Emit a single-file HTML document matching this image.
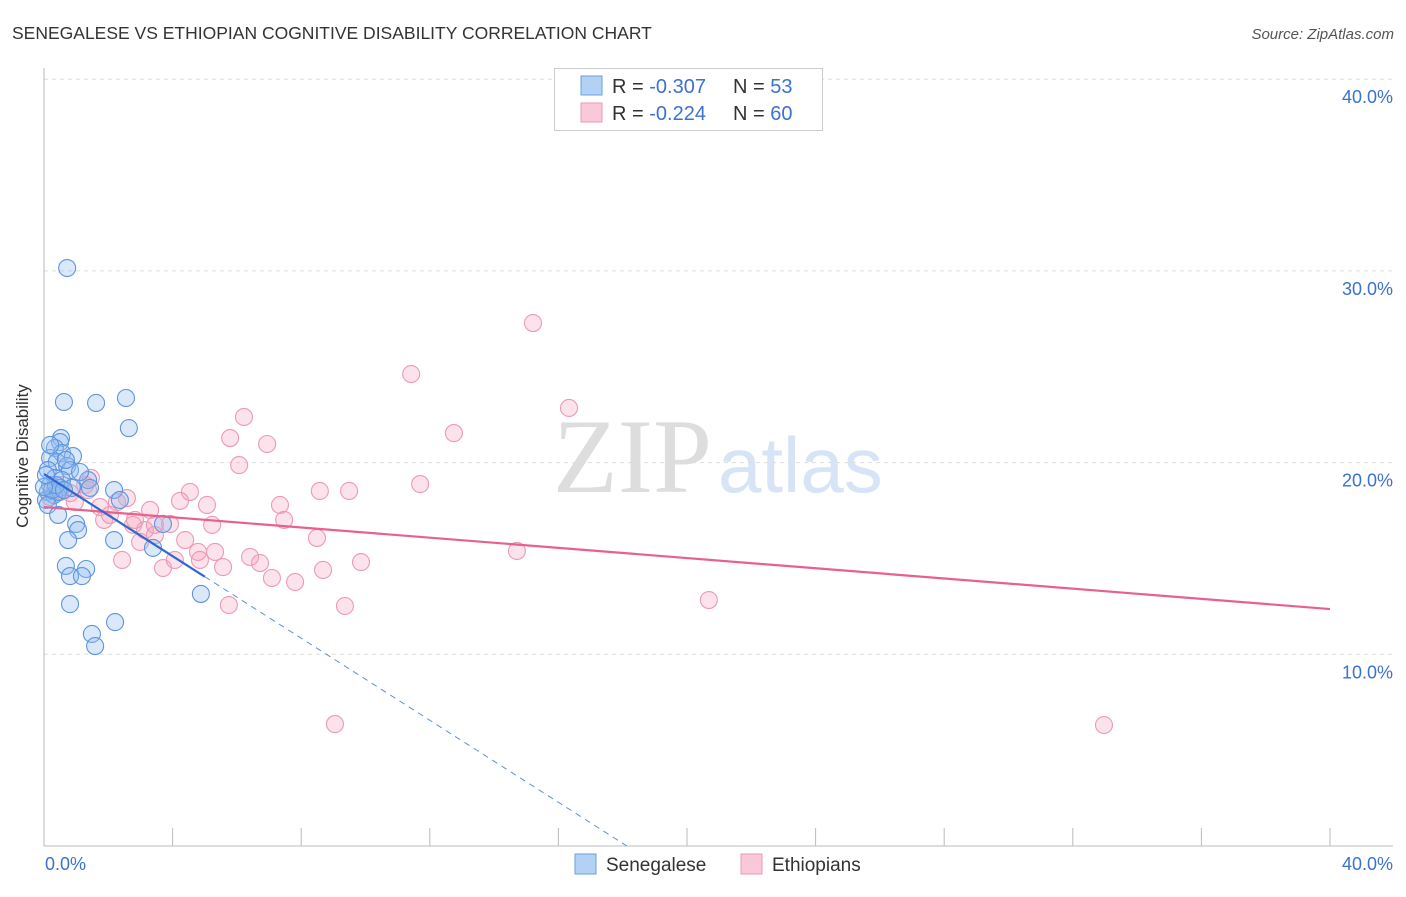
<!DOCTYPE html>
<html><head><meta charset="utf-8"><style>
body{margin:0;background:#fff;font-family:"Liberation Sans",sans-serif}
</style></head><body>
<svg id="c" width="1406" height="892" xmlns="http://www.w3.org/2000/svg">
<text x="12" y="39" font-size="17.5" fill="#333">SENEGALESE VS ETHIOPIAN COGNITIVE DISABILITY CORRELATION CHART</text>
<text x="1394" y="39" font-size="15" fill="#555" font-style="italic" text-anchor="end">Source: ZipAtlas.com</text>
<g>
<text x="553" y="492" font-size="106" font-family="Liberation Serif,serif" fill="#ddd">ZIP</text>
<text x="718" y="492" font-size="78" fill="#d6e4f5">atlas</text>
</g>
<g id="grid"></g>
<g id="axes"></g>
<g id="marks"></g>
<text x="28" y="456" font-size="17" fill="#333" text-anchor="middle" transform="rotate(-90 28 456)">Cognitive Disability</text>
<g>
<rect x="554.5" y="68.5" width="268" height="62" fill="#fff" stroke="#ccc"/>
<rect x="581" y="76" width="21" height="19" fill="#b3d0f5" stroke="#6d9fe0"/>
<rect x="581" y="103" width="21" height="19" fill="#fbc8d7" stroke="#ea9ab5"/>
<text x="612" y="93" font-size="20" fill="#333">R = <tspan fill="#3a72d0">-0.307</tspan><tspan x="733">N = </tspan><tspan fill="#3a72d0">53</tspan></text>
<text x="612" y="120" font-size="20" fill="#333">R = <tspan fill="#3a72d0">-0.224</tspan><tspan x="733">N = </tspan><tspan fill="#3a72d0">60</tspan></text>
</g>
<g>
<rect x="575" y="854" width="21" height="20" fill="#b3d0f5" stroke="#6d9fe0"/>
<text x="606" y="871" font-size="19" fill="#333">Senegalese</text>
<rect x="741" y="854" width="21" height="20" fill="#fbc8d7" stroke="#ea9ab5"/>
<text x="772" y="871" font-size="19" fill="#333">Ethiopians</text>
</g>
</svg>
<script>
const yTicks=[10,20,30,40];
const yTickLabels=["10.0%","20.0%","30.0%","40.0%"];
const xTicks=[4,8,12,16,20,24,28,32,36,40];
const blueX=[0.72,0.62,1.62,2.55,2.64,0.53,0.5,0.34,0.56,0.9,0.19,0.4,0.72,0.81,0.12,0.34,0.56,1.37,0.19,0.5,0.87,1.43,2.18,0.12,0.31,0.44,0.06,0.12,0.44,1.0,1.06,0.75,2.18,3.7,3.39,0.68,1.31,0.81,1.18,0.81,4.88,2.21,1.49,1.59,0.25,0.37,0.0,0.68,0.19,1.12,0.06,0.62,2.36];
const blueY=[30.15,23.16,23.11,23.37,21.8,21.28,21.07,20.76,20.5,20.34,20.24,20.03,19.82,19.61,19.61,19.2,19.09,19.09,18.83,18.68,18.68,18.68,18.57,18.47,18.31,18.47,18.05,17.79,17.27,16.8,16.48,15.96,15.96,16.8,15.55,14.61,14.45,14.08,14.08,12.62,13.15,11.68,11.06,10.43,18.57,18.83,18.73,20.14,20.92,19.51,19.35,18.57,18.05];
const pinkX=[15.21,11.42,12.75,16.33,6.22,5.79,6.94,6.07,11.7,8.58,9.49,1.46,1.28,2.58,2.27,4.54,4.23,5.07,7.34,3.3,1.87,7.47,2.77,3.92,5.23,8.49,2.99,3.45,4.39,4.79,5.32,6.41,2.43,3.7,4.07,5.57,6.72,9.86,14.71,7.09,7.81,8.68,5.75,9.36,20.68,9.05,32.97,0.34,0.5,0.81,0.96,1.74,0.56,0.19,1.37,3.14,4.85,2.05,2.83,3.45];
const pinkY=[27.28,24.62,21.54,22.85,22.38,21.28,20.97,19.87,18.88,18.52,18.52,19.2,18.83,18.15,17.94,18.47,18.0,17.79,17.79,17.53,17.01,17.01,16.75,16.8,16.75,16.07,15.86,16.22,15.96,15.34,15.34,15.08,14.92,14.5,14.92,14.55,14.76,14.81,15.39,13.98,13.77,14.4,12.57,12.52,12.83,6.36,6.31,18.57,18.47,18.41,17.94,17.68,18.83,18.2,18.57,16.48,14.92,17.27,17.01,16.75];
const blueTrend=[19.4,-1.07];
const pinkTrend=[17.68,-0.133];
const X=v=>44+v*32.15, Y=v=>846-v*19.17;
const NS="http://www.w3.org/2000/svg";
function mk(p,t,a){const e=document.createElementNS(NS,t);for(const k in a)e.setAttribute(k,a[k]);p.appendChild(e);return e;}
const grid=document.getElementById('grid'),axes=document.getElementById('axes'),marks=document.getElementById('marks');
yTicks.forEach((t,i)=>{
 const l=mk(grid,'line',{x1:44,x2:1393,y1:Y(t),y2:Y(t),stroke:'#ddd','stroke-dasharray':'4 4'});
 
 
 const tx=mk(axes,'text',{x:1393,y:Y(t)+24,'text-anchor':'end','font-size':18,fill:'#3a72d0'});
 tx.textContent=yTickLabels[i];
 
 
});
mk(axes,'line',{x1:44,x2:44,y1:68,y2:846,stroke:'#bbb'});
mk(axes,'line',{x1:44,x2:1393,y1:846,y2:846,stroke:'#bbb'});
xTicks.forEach(t=>{
 const l=mk(axes,'line',{x1:X(t),x2:X(t),y1:828,y2:846,stroke:'#bbb'});
 
 
});
const x0=mk(axes,'text',{x:45,y:870,'font-size':18,fill:'#3a72d0'});x0.textContent='0.0%';


const x1=mk(axes,'text',{x:1393,y:870,'font-size':18,fill:'#3a72d0','text-anchor':'end'});x1.textContent='40.0%';


pinkX.forEach((v,i)=>{
 const c=mk(marks,'circle',{cx:X(v),cy:Y(pinkY[i]),r:8.5,fill:'rgba(244,160,186,0.3)',stroke:'#ec9ab5','stroke-width':1.1});
 
 
});
blueX.forEach((v,i)=>{
 const c=mk(marks,'circle',{cx:X(v),cy:Y(blueY[i]),r:8.5,fill:'rgba(150,190,240,0.35)',stroke:'#5d95de','stroke-width':1.1});
 
 
});
const pt=mk(marks,'line',{x1:X(0),y1:Y(pinkTrend[0]),x2:X(40),y2:Y(pinkTrend[0]+pinkTrend[1]*40),stroke:'#e8608c','stroke-width':2.2});


const bt=mk(marks,'line',{x1:X(0),y1:Y(blueTrend[0]),x2:X(5),y2:Y(blueTrend[0]+blueTrend[1]*5),stroke:'#3068d0','stroke-width':2.2});


const xe=-blueTrend[0]/blueTrend[1];
const bd=mk(marks,'line',{x1:X(5),y1:Y(blueTrend[0]+blueTrend[1]*5),x2:X(xe),y2:Y(0),stroke:'#5d8fd8','stroke-width':1,'stroke-dasharray':'6 5'});


</script>
</body></html>
